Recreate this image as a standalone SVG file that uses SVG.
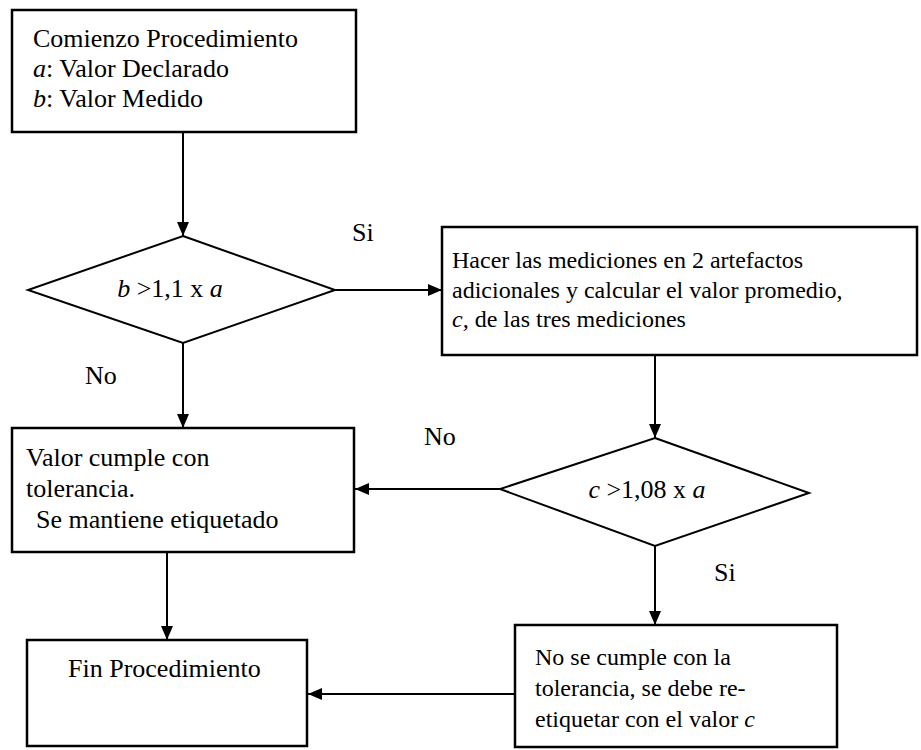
<svg xmlns="http://www.w3.org/2000/svg" width="921" height="750" viewBox="0 0 921 750">
<defs>
<marker id="ah" markerWidth="14" markerHeight="12" refX="14" refY="6" orient="auto" markerUnits="userSpaceOnUse">
<path d="M0,0 L14,6 L0,12 Z" fill="#000"/>
</marker>
<style>
.box{fill:#fff;stroke:#000;stroke-width:2.5}
.dia{fill:#fff;stroke:#000;stroke-width:2}
.t{font-size:26px;fill:#000}
.s{font-size:24px;fill:#000}
.i{font-style:italic}
.c{stroke:#000;stroke-width:2;fill:none}
</style>
</defs>
<rect width="921" height="750" fill="#fff"/>
<g id="connectors">
<line class="c" x1="183" y1="132" x2="183" y2="236" marker-end="url(#ah)"/>
<line class="c" x1="335" y1="290" x2="442" y2="290" marker-end="url(#ah)"/>
<line class="c" x1="183" y1="343" x2="183" y2="428" marker-end="url(#ah)"/>
<line class="c" x1="655" y1="355" x2="655" y2="438" marker-end="url(#ah)"/>
<line class="c" x1="500" y1="489" x2="355" y2="489" marker-end="url(#ah)"/>
<line class="c" x1="655" y1="546" x2="655" y2="625" marker-end="url(#ah)"/>
<line class="c" x1="167" y1="552" x2="167" y2="640" marker-end="url(#ah)"/>
<line class="c" x1="515" y1="694" x2="308" y2="694" marker-end="url(#ah)"/>
<text class="t" x="352" y="241" font-family="Liberation Serif, serif">Si</text>
<text class="t" x="85" y="384" font-family="Liberation Serif, serif">No</text>
<text class="t" x="424" y="445" font-family="Liberation Serif, serif">No</text>
<text class="t" x="714" y="581" font-family="Liberation Serif, serif">Si</text>
</g>
<g id="start">
<rect class="box" x="12" y="10" width="344" height="122"/>
<text class="t" x="33" y="47" font-family="Liberation Serif, serif">Comienzo Procedimiento</text>
<text class="t" x="33" y="77" font-family="Liberation Serif, serif"><tspan class="i">a</tspan>: Valor Declarado</text>
<text class="t" x="33" y="107" font-family="Liberation Serif, serif"><tspan class="i">b</tspan>: Valor Medido</text>
</g>
<g id="dec1">
<polygon class="dia" points="183,236 335,290 183,343 28,290"/>
<text class="t" x="170" y="297" text-anchor="middle" font-family="Liberation Serif, serif"><tspan class="i">b</tspan> &gt;1,1 x <tspan class="i">a</tspan></text>
</g>
<g id="measure">
<rect class="box" x="442" y="227" width="475" height="128"/>
<text class="s" x="452" y="268" font-family="Liberation Serif, serif">Hacer las mediciones en 2 artefactos</text>
<text class="s" x="452" y="298" font-family="Liberation Serif, serif">adicionales y calcular el valor promedio,</text>
<text class="s" x="452" y="327" font-family="Liberation Serif, serif"><tspan class="i">c,</tspan> de las tres mediciones</text>
</g>
<g id="ok">
<rect class="box" x="12" y="428" width="342" height="124"/>
<text class="t" x="26" y="466" font-family="Liberation Serif, serif">Valor cumple con</text>
<text class="t" x="26" y="497" font-family="Liberation Serif, serif">tolerancia.</text>
<text class="t" x="36" y="528" font-family="Liberation Serif, serif">Se mantiene etiquetado</text>
</g>
<g id="dec2">
<polygon class="dia" points="655,438 809,493 655,546 500,489"/>
<text class="t" x="647" y="498" text-anchor="middle" font-family="Liberation Serif, serif"><tspan class="i">c</tspan> &gt;1,08 x <tspan class="i">a</tspan></text>
</g>
<g id="end">
<rect class="box" x="27" y="640" width="280" height="106"/>
<text class="t" x="68" y="677" font-family="Liberation Serif, serif">Fin Procedimiento</text>
</g>
<g id="relabel">
<rect class="box" x="515" y="625" width="322" height="122"/>
<text class="s" x="535" y="665" font-family="Liberation Serif, serif">No se cumple con la</text>
<text class="s" x="535" y="696" font-family="Liberation Serif, serif">tolerancia, se debe re-</text>
<text class="s" x="535" y="727" font-family="Liberation Serif, serif">etiquetar con el valor <tspan class="i">c</tspan></text>
</g>
</svg>
